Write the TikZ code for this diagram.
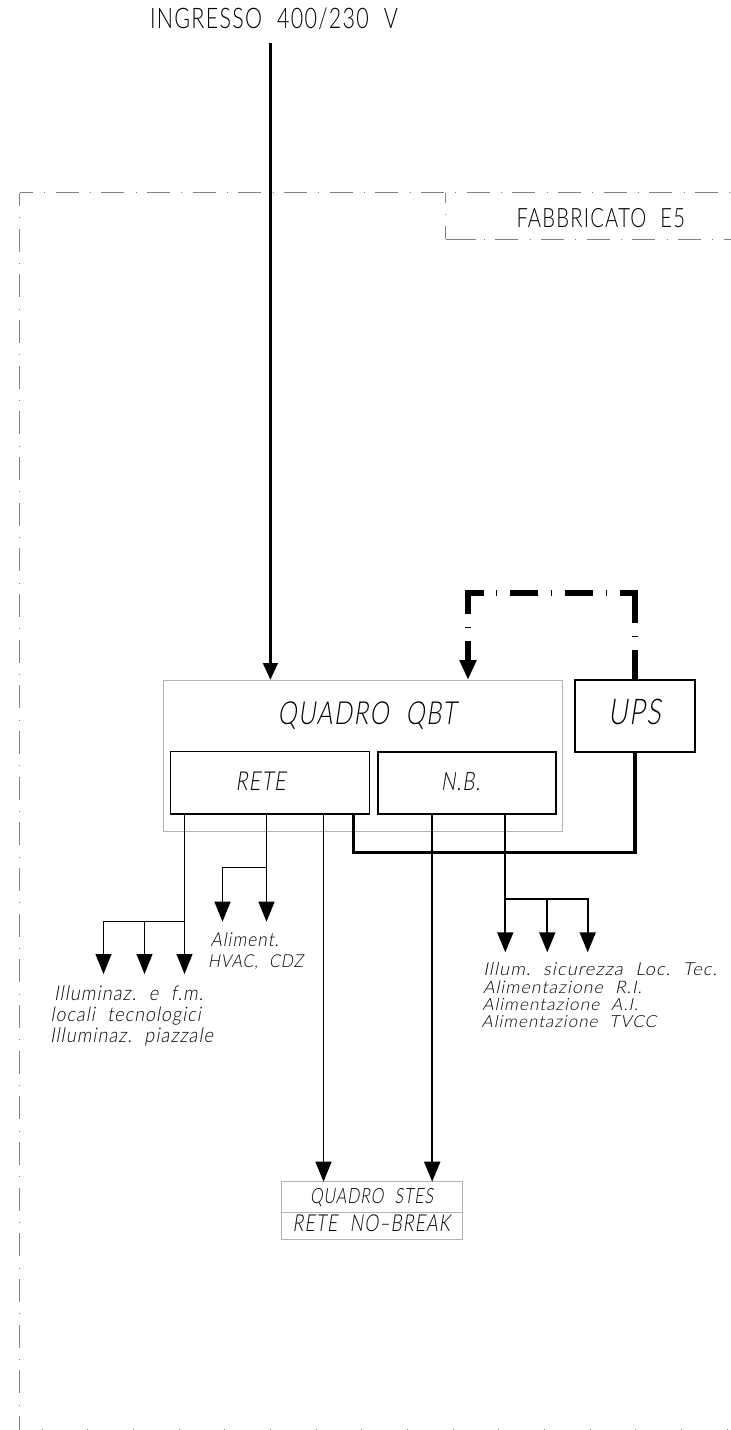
\documentclass[tikz,border=0pt]{standalone}
\usepackage{fontspec}
\usepackage{graphicx}
\setmainfont{Lato Light}
\newfontfamily\cadrm[LetterSpace=6]{Lato Light}
\newfontfamily\cadit[LetterSpace=6,FakeSlant=0.2]{Lato Light}
\usetikzlibrary{arrows.meta}
\newlength\mypx
\setlength\mypx{0.75pt}
\newcommand{\rmtxt}[2]{\scalebox{1}[1.32]{\resizebox{#1\mypx}{!}{\cadrm #2}}}
\newcommand{\ittxt}[3][1.32]{\scalebox{1}[#1]{\resizebox{#2\mypx}{!}{\cadit #3}}}
\newcommand{\wgap}{\hspace{0.7em}}
\tikzset{
  lab/.style={anchor=base west,inner sep=0pt,outer sep=0pt},
  boxn/.style={draw,inner sep=0pt,outer sep=0pt},
  graybox/.style={boxn,draw=black!30,line width=0.75pt},
  thinbox/.style={boxn,draw=black,line width=0.9pt},
  medbox/.style={boxn,draw=black,line width=1.5pt},
  wirethin/.style={draw=black,line width=0.9pt},
  wiremed/.style={draw=black,line width=1.35pt},
  wirethick/.style={draw=black,line width=2.7pt},
  bigtip/.style={-{Triangle[length=15pt,width=12pt]}},
  feedtip/.style={-{Triangle[length=12.75pt,width=10.7pt]}},
  border/.style={draw=black!50,line width=0.7pt},
  bdash/.style={dash pattern=on 17.25pt off 8.5pt on 0.75pt off 7.75pt},
}
\begin{document}
\begin{tikzpicture}[x=0.75pt,y=-0.75pt]
\useasboundingbox (0,0) rectangle (731,1430);
% building boundary
\draw[border,bdash,dash phase=7.3pt] (19.6,192.7) -- (731,192.7);
\draw[border,bdash,dash phase=7.3pt] (19.6,192.7) -- (19.6,1430);
\draw[border,bdash,dash phase=9.5pt] (445.7,192.7) -- (445.7,239.3);
\draw[border] (445.7,239.3) -- (475.5,239.3);
\draw[border,bdash,dash phase=25.75pt] (484,239.3) -- (731,239.3);
\draw[border,dash pattern=on 0.75pt off 33.5pt] (41.7,1429.5) -- (731,1429.5);
\node[lab] (ingresso) at (150,28.3) {\rmtxt{248}{INGRESSO\wgap 400/230\wgap V}};
\node[lab] (fabbricato) at (516.5,227.3) {\rmtxt{168.5}{FABBRICATO\wgap E5}};
% boxes
\node[graybox,minimum width=299.25pt,minimum height=113.25pt] (qbt) at (363,755.5) {};
\node[thinbox,minimum width=149.4pt,minimum height=46.7pt] (rete) at (270,782.9) {};
\node[medbox,minimum width=133.3pt,minimum height=46.7pt] (nb) at (466.8,782.9) {};
\node[medbox,minimum width=90pt,minimum height=53.8pt] (ups) at (635,715.85) {};
\node[graybox,minimum width=135.45pt,minimum height=43.7pt] (stes) at (372,1210.85) {};
\draw[draw=black!30,line width=0.75pt] (stes.west |- 0,1212) coordinate (stesl) -- (stes.east |- 0,1212) coordinate (stesr);
\node[lab] (tqbt) at (277.5,724) {\ittxt{178.5}{QUADRO\wgap QBT}};
\node[lab] (tups) at (608,724) {\ittxt{52.7}{UPS}};
\node[lab] (trete) at (235.7,790.7) {\ittxt{50}{RETE}};
\node[lab] (tnb) at (441,790.7) {\ittxt{39}{N.B.}};
\node[lab] (tstes) at (310,1203) {\ittxt{123}{QUADRO\wgap STES}};
\node[lab] (tnob) at (292.7,1231.7) {\ittxt{157.3}{RETE\wgap NO–BREAK}};
% labels
\node[lab] (a1) at (54,1000) {\ittxt[1.12]{149}{Illuminaz.\wgap e\wgap f.m.}};
\node[lab] (a2) at (50.7,1021.3) {\ittxt[1.12]{150}{locali\wgap tecnologici}};
\node[lab] (a3) at (50,1042.7) {\ittxt[1.12]{163}{Illuminaz.\wgap piazzale}};
\node[lab] (b1) at (210.7,946.7) {\ittxt[1.12]{68}{Aliment.}};
\node[lab] (b2) at (208,967) {\ittxt[1.12]{95}{HVAC,\wgap CDZ}};
\node[lab] (c1) at (483.3,975.7) {\ittxt[0.98]{233.4}{Illum.\wgap sicurezza\wgap Loc.\wgap Tec.}};
\node[lab] (c2) at (483,993) {\ittxt[0.98]{158.7}{Alimentazione\wgap R.I.}};
\node[lab] (c3) at (482.3,1010) {\ittxt[0.98]{155.7}{Alimentazione\wgap A.I.}};
\node[lab] (c4) at (481.7,1027) {\ittxt[0.98]{174.3}{Alimentazione\wgap TVCC}};
% main feed
\coordinate (feed) at (270.4,43);
\coordinate (feedend) at (270.4,680);
\draw[wirethick,feedtip] (feed) -- (feedend);
% UPS loop, dash-dot
\coordinate (loopR) at (635,680);
\coordinate (loopTR) at (635,593);
\coordinate (loopTL) at (468,593);
\coordinate (loopL) at (468,680);
\draw[draw=black,line width=3.8pt,bigtip,
  dash pattern=on 22.5pt off 9.75pt on 0.75pt off 9.75pt on 33.75pt off 9.75pt on 0.75pt off 9.75pt on 21pt off 9.6pt on 0.75pt off 9.6pt on 21.4pt off 9.4pt on 0.75pt off 9.4pt on 27.45pt off 9.75pt on 0.75pt off 9.75pt on 40pt]
  (loopR) -- (loopTR) -- (loopTL) -- (loopL);
% thick link
\coordinate (reteThick) at (353.6,814);
\coordinate (j1) at (353.6,852.3);
\coordinate (j2) at (635,852.3);
\draw[wirethick,line join=miter] (reteThick) -- (j1) -- (j2) -- (ups.south);
% RETE branches
\coordinate (r1) at (184.5,814);
\coordinate (r1e) at (184.5,974);
\coordinate (r1b) at (184.5,921.5);
\coordinate (r1a) at (103.5,921.5);
\coordinate (r1ae) at (103.5,974);
\coordinate (r1m) at (144.5,921.5);
\coordinate (r1me) at (144.5,974);
\draw[wirethin,bigtip] (r1) -- (r1e);
\draw[wirethin,bigtip] (r1b) -- (r1a) -- (r1ae);
\draw[wirethin,bigtip] (r1m) -- (r1me);
\coordinate (r2) at (266.5,814);
\coordinate (r2e) at (266.5,921.7);
\coordinate (r2b) at (266.5,867.5);
\coordinate (r2a) at (222.5,867.5);
\coordinate (r2ae) at (222.5,921.7);
\draw[wirethin,bigtip] (r2) -- (r2e);
\draw[wirethin,bigtip] (r2b) -- (r2a) -- (r2ae);
\coordinate (r3) at (323.5,814);
\coordinate (r3e) at (323.5,1181.7);
\draw[wirethin,bigtip] (r3) -- (r3e);
% NB branches
\coordinate (n1) at (432.2,814);
\coordinate (n1e) at (432.2,1181.7);
\draw[wiremed,bigtip] (n1) -- (n1e);
\coordinate (n2) at (505.3,814);
\coordinate (n2e) at (505.3,952.3);
\coordinate (n2b) at (505.3,899.3);
\coordinate (n2m) at (547.3,899.3);
\coordinate (n2me) at (547.3,952.3);
\coordinate (n2r) at (587.7,899.3);
\coordinate (n2re) at (587.7,952.3);
\draw[wiremed,bigtip] (n2) -- (n2e);
\draw[wiremed,bigtip] (n2m) -- (n2me);
\draw[wiremed,bigtip] (n2b) -- (n2r) -- (n2re);
\end{tikzpicture}
\end{document}
